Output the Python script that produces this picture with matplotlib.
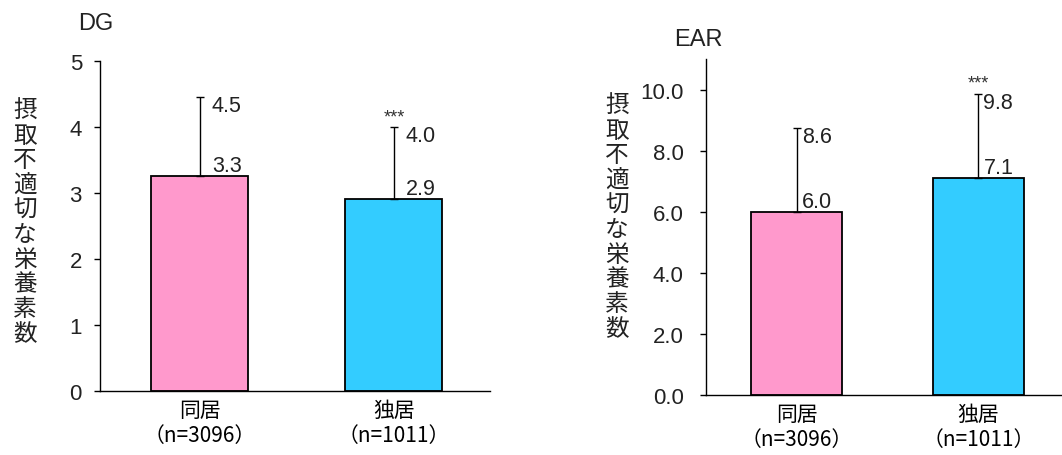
import matplotlib
matplotlib.use("Agg")
import matplotlib.pyplot as plt

plt.rcParams['font.family'] = ['Liberation Sans', 'Noto Sans CJK JP', 'DejaVu Sans']

categories = ["同居\n（n=3096）", "独居\n（n=1011）"]
colors = ["#FF99CC", "#33CCFF"]

dg_mean = [3.26, 2.91]
dg_upper = [4.45, 4.00]
dg_mean_labels = ["3.3", "2.9"]
dg_upper_labels = ["4.5", "4.0"]
dg_sig = ["", "***"]

ear_mean = [5.98, 7.12]
ear_upper = [8.75, 9.87]
ear_mean_labels = ["6.0", "7.1"]
ear_upper_labels = ["8.6", "9.8"]
ear_sig = ["", "***"]

ylabel = "摂取不適切な栄養素数"

W, H = 1062, 456
fig = plt.figure(figsize=(W / 100, H / 100), dpi=100)


def px_axes(x0, y0, x1, y1):
    return fig.add_axes([x0 / W, 1 - y1 / H, (x1 - x0) / W, (y1 - y0) / H])


def draw(ax, means, uppers, mlabels, ulabels, sig, ylim, yticks, fmt, xlim, lab_dx, tickpad):
    x = list(range(len(means)))
    err = [[0] * len(means), [u - m for u, m in zip(uppers, means)]]
    ax.bar(x, means, width=0.5, color=colors, edgecolor="black", linewidth=1.3, zorder=2)
    ax.errorbar(x, means, yerr=err, fmt="none", ecolor="black", elinewidth=1.0,
                capsize=3, capthick=1.0, zorder=3)
    for xi, m, u, ml, ul, s in zip(x, means, uppers, mlabels, ulabels, sig):
        ax.annotate(ml, (xi, m), xytext=(lab_dx, 0), textcoords="offset pixels",
                    ha="left", va="bottom", fontsize=15.5, color="#222222")
        ax.annotate(ul, (xi, u), xytext=(lab_dx, 2), textcoords="offset pixels",
                    ha="left", va="top", fontsize=15.5, color="#222222")
        if s:
            ax.annotate(s, (xi, u), xytext=(0, 2), textcoords="offset pixels",
                        ha="center", va="bottom", fontsize=13, color="#333333")
    ax.set_ylim(*ylim)
    ax.set_xlim(*xlim)
    ax.set_yticks(yticks)
    ax.set_yticklabels([fmt.format(v) for v in yticks])
    ax.set_xticks(x)
    ax.set_xticklabels(categories, fontsize=15, linespacing=1.15,
                       family=['Noto Sans CJK JP'])
    ax.tick_params(axis="x", length=0, pad=6)
    ax.tick_params(axis="y", direction="out", length=4, width=1, pad=tickpad, labelsize=16,
                   labelcolor="#222222")
    for sp in ["top", "right"]:
        ax.spines[sp].set_visible(False)
    for sp in ["left", "bottom"]:
        ax.spines[sp].set_linewidth(1.0)


ax1 = px_axes(100, 62, 490, 392)
draw(ax1, dg_mean, dg_upper, dg_mean_labels, dg_upper_labels, dg_sig,
     (0, 5), [0, 1, 2, 3, 4, 5], "{:.0f}", (-0.515, 1.495), 12, 9)

ax2 = px_axes(706, 60, 1062, 396)
draw(ax2, ear_mean, ear_upper, ear_mean_labels, ear_upper_labels, ear_sig,
     (0, 11), [0, 2, 4, 6, 8, 10], "{:.1f}", (-0.50, 1.46), 5, 12)

fig.text(78 / W, 1 - 24 / H, "DG", fontsize=17, ha="left", va="center", color="#222222")
fig.text(674 / W, 1 - 40 / H, "EAR", fontsize=17, ha="left", va="center", color="#222222")

vlabel = "\n".join(ylabel)
fig.text(25 / W, 1 - 223 / H, vlabel, fontsize=17, ha="center", va="center",
         linespacing=1.1, color="#222222", family=['Noto Sans CJK JP'])
fig.text(617 / W, 1 - 218 / H, vlabel, fontsize=17, ha="center", va="center",
         linespacing=1.1, color="#222222", family=['Noto Sans CJK JP'])

fig.savefig("out.png", dpi=100)
